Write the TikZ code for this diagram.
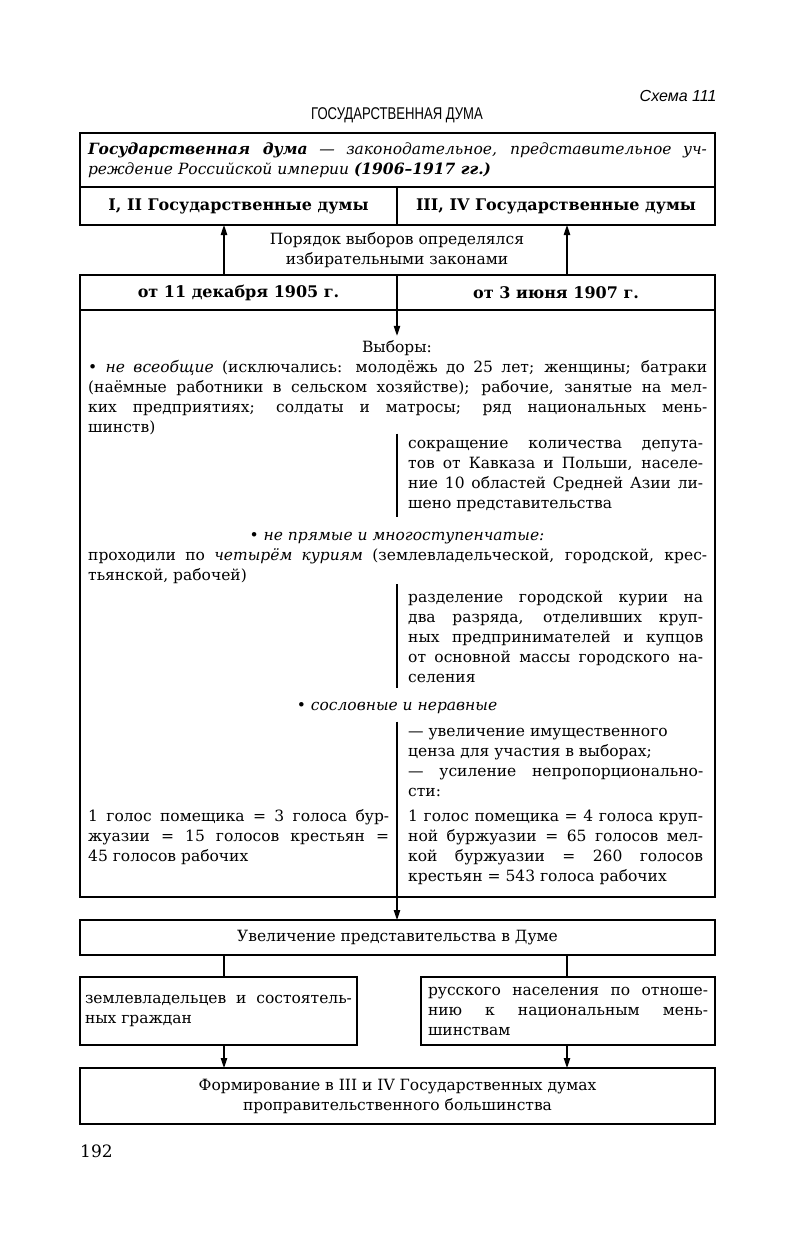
\documentclass[tikz,border=0pt]{standalone}
\usepackage{fontspec}
\setmainfont{DejaVu Serif}
\newfontfamily\narrowsans[FakeStretch=0.77]{Liberation Sans}
\newfontfamily\plainsans{Liberation Sans}
\usetikzlibrary{arrows.meta,positioning,calc}

\begin{document}
\begin{tikzpicture}[
    x=1pt, y=-1pt,
    txt/.style={font=\fontsize{15.5}{20}\selectfont, inner sep=0pt},
    frame/.style={txt, draw=black, line width=1.1pt, anchor=north west, align=center, outer sep=0pt},
    para/.style={txt, align=justify, anchor=base west, inner xsep=8pt},
    rcol/.style={txt, align=justify, anchor=base west, inner xsep=11pt, inner ysep=6pt, text width=295pt},
    rule/.style={line width=1.1pt},
    flow/.style={-{Triangle[length=10pt,width=6.5pt]}, line width=1.1pt}
]
\useasboundingbox (0,0) rectangle (791,1245);
\coordinate (colL) at (224,0);
\coordinate (colR) at (567,0);

\node[anchor=base east, font=\plainsans\itshape\fontsize{16}{18}\selectfont] (schema) at (720,101) {Схема 111};
\node[anchor=base, font=\narrowsans\fontsize{17}{18}\selectfont] (title) at (397,119) {ГОСУДАРСТВЕННАЯ ДУМА};

% duma definition and the two pairs of dumas
\node[frame, minimum width=635, minimum height=54, text width=619, align=justify, inner xsep=8pt] (defbox) at (80,133)
  {{\bfseries\itshape Государственная дума} \textit{— законодательное, представительное уч-\linebreak реждение Российской империи} {\bfseries\itshape (1906–1917 гг.)}};
\node[frame, minimum width=317, minimum height=38, font=\bfseries\fontsize{16}{20}\selectfont] (duma12) at (80,187) {I, II Государственные думы};
\node[frame, minimum width=318, minimum height=38, font=\bfseries\fontsize{16}{20}\selectfont] (duma34) at (397,187) {III, IV Государственные думы};

\node[txt, align=center] (order) at (397,250) {Порядок выборов определялся\\избирательными законами};

\node[frame, minimum width=317, minimum height=35, font=\bfseries\fontsize{16}{20}\selectfont] (law1905) at (80,275) {от 11 декабря 1905 г.};
\node[frame, minimum width=318, minimum height=35, font=\bfseries\fontsize{16}{20}\selectfont] (law1907) at (397,275) {от 3 июня 1907 г.};

% elections
\node[frame, minimum width=635, minimum height=587] (elect) at (80,310) {};
\node[txt, anchor=base, inner sep=4pt] (vybory) at (397,352) {Выборы:};
\node[para, text width=619] (p1) at (80,372)
  {• \textit{не всеобщие} (исключались: молодёжь до 25 лет; женщины; батраки\linebreak (наёмные работники в сельском хозяйстве); рабочие, занятые на мел-\linebreak ких предприятиях; солдаты и матросы; ряд национальных мень-\linebreak шинств)};
\node[rcol] (r1) at (397,448)
  {сокращение количества депута-\linebreak тов от Кавказа и Польши, населе-\linebreak ние 10 областей Средней Азии ли-\linebreak шено представительства};
\node[txt, anchor=base] (b2) at (397,540) {• \textit{не прямые и многоступенчатые:}};
\node[para, text width=619] (p2) at (80,560)
  {проходили по \textit{четырём куриям} (землевладельческой, городской, крес-\linebreak тьянской, рабочей)};
\node[rcol] (r2) at (397,602)
  {разделение городской курии на\linebreak два разряда, отделивших круп-\linebreak ных предпринимателей и купцов\linebreak от основной массы городского на-\linebreak селения};
\node[txt, anchor=base] (b3) at (397,710) {• \textit{сословные и неравные}};
\node[rcol] (r3) at (397,736)
  {— увеличение имущественного\\ценза для участия в выборах;\\— усиление непропорционально-\linebreak сти:};
\node[para, text width=301] (l4) at (80,821)
  {1 голос помещика = 3 голоса бур-\linebreak жуазии = 15 голосов крестьян =\linebreak 45 голосов рабочих};
\node[rcol] (r4) at (397,821)
  {1 голос помещика = 4 голоса круп-\linebreak ной буржуазии = 65 голосов мел-\linebreak кой буржуазии = 260 голосов\linebreak крестьян = 543 голоса рабочих};

% results
\node[frame, minimum width=635, minimum height=35] (incr) at (80,920) {Увеличение представительства в Думе};
\node[frame, minimum width=277, minimum height=68, text width=267, align=justify, inner xsep=5pt] (lbox) at (80,977)
  {землевладельцев и состоятель-\linebreak ных граждан};
\node[frame, minimum width=294, minimum height=68, text width=280, align=justify, inner xsep=7pt] (rbox) at (421,977)
  {русского населения по отноше-\linebreak нию к национальным мень-\linebreak шинствам};
\node[frame, minimum width=635, minimum height=56] (final) at (80,1068)
  {Формирование в III и IV Государственных думах\\проправительственного большинства};

\node[txt, anchor=base west, font=\fontsize{17}{20}\selectfont] (page) at (80,1157) {192};

\draw[flow] (law1905.north -| colL) -- (duma12.south -| colL);
\draw[flow] (law1907.north -| colR) -- (duma34.south -| colR);
\draw[flow] (law1905.south east) -- (law1905.south east |- vybory.north);
\draw[rule] (r1.north west) -- (r1.south west);
\draw[rule] (r2.north west) -- (r2.south west);
\draw[rule] (r3.north west) -- (r3.north west |- elect.south);
\draw[flow] (elect.south -| r3.north west) -- (incr.north -| r3.north west);
\draw[rule] (incr.south -| colL) -- (lbox.north -| colL);
\draw[rule] (incr.south -| colR) -- (rbox.north -| colR);
\draw[flow] (lbox.south -| colL) -- (final.north -| colL);
\draw[flow] (rbox.south -| colR) -- (final.north -| colR);

\end{tikzpicture}
\end{document}
